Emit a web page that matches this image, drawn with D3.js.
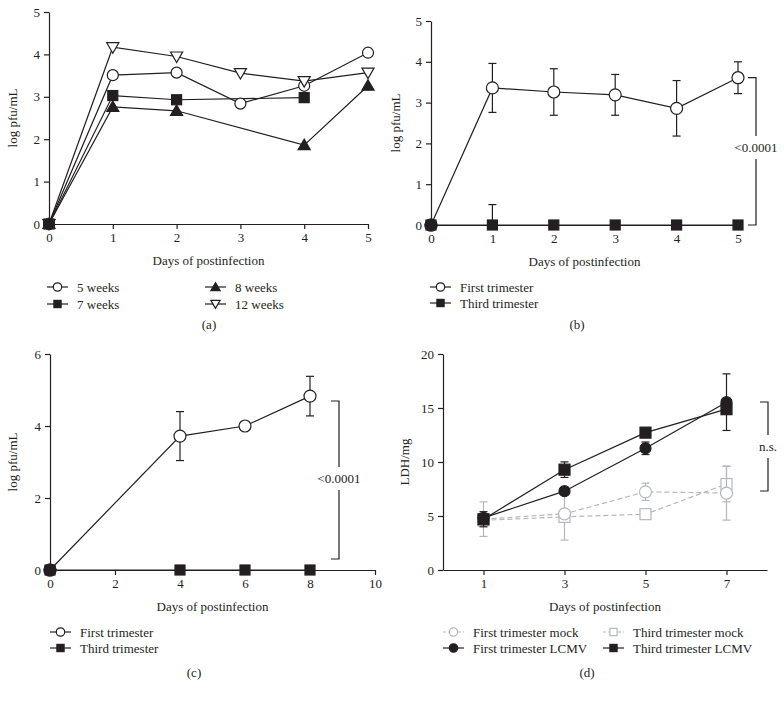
<!DOCTYPE html>
<html>
<head>
<meta charset="utf-8">
<script src="https://cdn.jsdelivr.net/npm/d3@7"></script>
<style>
  body { margin: 0; background: #fff; }
  text { font-family: "Liberation Serif", "DejaVu Serif", serif; fill: #231f20; }
</style>
</head>
<body>
<svg id="chart" width="784" height="701"></svg>
<script>
// ---- data ----
// panel (a): log pfu/mL by gestational age
const daysA = [0, 1, 2, 3, 4, 5];
const wk5 = [0, 3.51, 3.57, 2.84, 3.26, 4.04];
const wk7 = [0, 3.03, 2.93, null, 2.98, null];
const wk8 = [0, 2.76, 2.67, null, 1.86, 3.26];
const wk12 = [0, 4.17, 3.95, 3.56, 3.37, 3.57];
const legendA = ["5 weeks", "7 weeks", "8 weeks", "12 weeks"];

// panel (b)
const daysB = [0, 1, 2, 3, 4, 5];
const firstB = [0, 3.36, 3.26, 3.19, 2.86, 3.61];
const firstBErr = [0, 0.6, 0.57, 0.5, 0.68, 0.39];
const thirdB = [0, 0, 0, 0, 0, 0];
const thirdBErr = [0, 0.5, 0, 0, 0, 0];

// panel (c)
const daysC = [0, 4, 6, 8];
const firstC = [0, 3.72, 4.0, 4.83];
const firstCErr = [0, 0.68, 0, 0.55];
const thirdC = [0, 0, 0, 0];

// panel (d): LDH/mg
const daysD = [1, 3, 5, 7];
const firstMock = [4.71, 5.2, 7.24, 7.12];
const firstMockErr = [1.6, 0, 0.8, 2.5];
const thirdMock = [4.6, 4.92, 5.17, 7.96];
const thirdMockErr = [0, 2.15, 0, 1.65];
const firstLCMV = [4.83, 7.3, 11.27, 15.54];
const firstLCMVErr = [0, 0, 0.58, 2.62];
const thirdLCMV = [4.7, 9.29, 12.72, 14.89];
const thirdLCMVErr = [0.7, 0.72, 0, 0];
const legendD = ["First trimester mock", "Third trimester mock", "First trimester LCMV", "Third trimester LCMV"];

const legendBC = ["First trimester", "Third trimester"];
const xTitle = "Days of postinfection";

const ink = "#231f20";
const grey = "#b4b8bc";
const svg = d3.select("#chart");

// marker drawing helper
function marker(g, type, x, y, size, color, filled) {
  const fill = filled ? color : "#fff";
  if (type === "circle") {
    g.append("circle").attr("cx", x).attr("cy", y).attr("r", size)
      .attr("fill", fill).attr("stroke", color).attr("stroke-width", 1.2);
  } else if (type === "square") {
    g.append("rect").attr("x", x - size).attr("y", y - size)
      .attr("width", size * 2).attr("height", size * 2)
      .attr("fill", fill).attr("stroke", color).attr("stroke-width", 1.2);
  } else if (type === "tri") {
    const s = d3.symbol().type(d3.symbolTriangle).size(size * size * 2.1);
    g.append("path").attr("d", s()).attr("transform", `translate(${x},${y + 1})`)
      .attr("fill", fill).attr("stroke", color).attr("stroke-width", 1.2);
  } else if (type === "tridown") {
    const s = d3.symbol().type(d3.symbolTriangle).size(size * size * 2.1);
    g.append("path").attr("d", s()).attr("transform", `translate(${x},${y - 1}) rotate(180)`)
      .attr("fill", fill).attr("stroke", color).attr("stroke-width", 1.2);
  }
}

function axes(x, y, xTicks, yTicks, yLabel, yLabelX, title, tag, tagX, tagY) {
  const g = svg.append("g");
  const x0 = x.range()[0], y0 = y.range()[0];
  g.append("g").attr("transform", `translate(0,${y0})`)
    .call(d3.axisBottom(x).tickValues(xTicks).tickFormat(d3.format("d")).tickSize(5).tickSizeOuter(0).tickPadding(4))
    .call(a => a.selectAll("text").attr("font-size", 13).attr("font-family", "Liberation Serif"))
    .call(a => a.selectAll("line,path").attr("stroke", ink).attr("stroke-width", 1.2));
  g.append("g").attr("transform", `translate(${x0},0)`)
    .call(d3.axisLeft(y).tickValues(yTicks).tickFormat(d3.format("d")).tickSize(5).tickSizeOuter(0).tickPadding(4))
    .call(a => a.selectAll("text").attr("font-size", 13).attr("font-family", "Liberation Serif"))
    .call(a => a.selectAll("line,path").attr("stroke", ink).attr("stroke-width", 1.2));
  const yr = y.range();
  g.append("text").attr("transform", `translate(${yLabelX},${(yr[0] + yr[1]) / 2}) rotate(-90)`)
    .attr("text-anchor", "middle").attr("font-size", 13).text(yLabel);
  const xr = x.range();
  g.append("text").attr("x", (xr[0] + xr[1]) / 2).attr("y", y0 + 41)
    .attr("text-anchor", "middle").attr("font-size", 13).text(title);
  g.append("text").attr("x", tagX).attr("y", tagY)
    .attr("text-anchor", "middle").attr("font-size", 13).text(tag);
}

function series(x, y, xs, ys, errs, type, color, filled, dashed, size) {
  const g = svg.append("g");
  const pts = xs.map((d, i) => ({ x: d, y: ys[i], e: errs ? errs[i] : 0 }))
    .filter(p => p.y !== null);
  if (errs) {
    pts.filter(p => p.e > 0).forEach(p => {
      const cx = x(p.x);
      // error bars are cut at the axis floor (no negative titres)
      const lo = Math.max(0, p.y - p.e), hi = p.y + p.e;
      g.append("line").attr("x1", cx).attr("x2", cx)
        .attr("y1", y(lo)).attr("y2", y(hi))
        .attr("stroke", color).attr("stroke-width", 1.2);
      const caps = lo > 0 ? [lo, hi] : [hi];
      caps.forEach(v => {
        g.append("line").attr("x1", cx - 4).attr("x2", cx + 4)
          .attr("y1", y(v)).attr("y2", y(v))
          .attr("stroke", color).attr("stroke-width", 1.2);
      });
    });
  }
  g.append("path").datum(pts)
    .attr("d", d3.line().x(p => x(p.x)).y(p => y(p.y)))
    .attr("fill", "none").attr("stroke", color).attr("stroke-width", 1.2)
    .attr("stroke-dasharray", dashed ? "5,3" : null);
  pts.forEach(p => marker(g, type, x(p.x), y(p.y), size || 5.5, color, filled));
}

function legendItem(x, y, type, color, filled, dashed, label) {
  const g = svg.append("g");
  g.append("line").attr("x1", x).attr("x2", x + 21).attr("y1", y).attr("y2", y)
    .attr("stroke", color).attr("stroke-width", 1.2)
    .attr("stroke-dasharray", dashed ? "3,2" : null);
  marker(g, type, x + 10.5, y, type === "square" ? 3.6 : 4.2, color, filled);
  g.append("text").attr("x", x + 30).attr("y", y + 4.5).attr("font-size", 13).text(label);
}

function bracket(x1, x2, top, bottom, label, labelY) {
  const g = svg.append("g");
  g.append("path")
    .attr("d", `M${x1},${top}H${x2}V${labelY - 11}M${x2},${labelY + 12}V${bottom}H${x1}`)
    .attr("fill", "none").attr("stroke", ink).attr("stroke-width", 1.2);
  g.append("text").attr("x", x2).attr("y", labelY + 4.5)
    .attr("text-anchor", "middle").attr("font-size", 13).text(label);
}

// ---- panel (a) ----
const xa = d3.scaleLinear().domain([0, 5]).range([49, 368]);
const ya = d3.scaleLinear().domain([0, 5]).range([224, 12]);
axes(xa, ya, d3.range(0, 6), d3.range(0, 6), "log pfu/mL", 17, xTitle, "(a)", 209, 329);
series(xa, ya, daysA, wk8, null, "tri", ink, true, false, 5.5);
series(xa, ya, daysA, wk7, null, "square", ink, true, false, 5);
series(xa, ya, daysA, wk5, null, "circle", ink, false, false, 5.5);
series(xa, ya, daysA, wk12, null, "tridown", ink, false, false, 5.5);
marker(svg.append("g"), "circle", xa(0), ya(0), 5.5, ink, true);
legendItem(47, 287, "circle", ink, false, false, legendA[0]);
legendItem(47, 304, "square", ink, true, false, legendA[1]);
legendItem(205, 287, "tri", ink, true, false, legendA[2]);
legendItem(205, 304, "tridown", ink, false, false, legendA[3]);

// ---- panel (b) ----
const xb = d3.scaleLinear().domain([0, 5]).range([431, 738]);
const yb = d3.scaleLinear().domain([0, 5]).range([225, 21]);
axes(xb, yb, d3.range(0, 6), d3.range(0, 6), "log pfu/mL", 400, xTitle, "(b)", 577, 329);
series(xb, yb, daysB, thirdB, thirdBErr, "square", ink, true, false, 5);
series(xb, yb, daysB, firstB, firstBErr, "circle", ink, false, false, 6);
marker(svg.append("g"), "circle", xb(0), yb(0), 6, ink, true);
bracket(748, 756, yb(firstB[5]), yb(0), "<0.0001", 147);
legendItem(430, 287, "circle", ink, false, false, legendBC[0]);
legendItem(430, 303, "square", ink, true, false, legendBC[1]);

// ---- panel (c) ----
const xc = d3.scaleLinear().domain([0, 10]).range([50, 375]);
const yc = d3.scaleLinear().domain([0, 6]).range([570, 354]);
axes(xc, yc, d3.range(0, 11, 2), d3.range(0, 7, 2), "log pfu/mL", 17, xTitle, "(c)", 194, 677);
series(xc, yc, daysC, thirdC, null, "square", ink, true, false, 5);
series(xc, yc, daysC, firstC, firstCErr, "circle", ink, false, false, 6);
marker(svg.append("g"), "circle", xc(0), yc(0), 6, ink, true);
bracket(331, 339, 401, 559, "<0.0001", 478);
legendItem(50, 632, "circle", ink, false, false, legendBC[0]);
legendItem(50, 648, "square", ink, true, false, legendBC[1]);

// ---- panel (d) ----
const xd = d3.scaleLinear().domain([0, 8]).range([443, 767]);
const yd = d3.scaleLinear().domain([0, 20]).range([570, 354]);
axes(xd, yd, [1, 3, 5, 7], d3.range(0, 21, 5), "LDH/mg", 409, xTitle, "(d)", 587, 677);
series(xd, yd, daysD, thirdMock, thirdMockErr, "square", grey, false, true, 5.5);
series(xd, yd, daysD, firstMock, firstMockErr, "circle", grey, false, true, 6);
series(xd, yd, daysD, firstLCMV, firstLCMVErr, "circle", ink, true, false, 5.5);
series(xd, yd, daysD, thirdLCMV, thirdLCMVErr, "square", ink, true, false, 5.5);
bracket(760, 768, 402, 491, "n.s.", 446);
legendItem(443, 632, "circle", grey, false, true, legendD[0]);
legendItem(603, 632, "square", grey, false, true, legendD[1]);
legendItem(443, 648, "circle", ink, true, false, legendD[2]);
legendItem(603, 648, "square", ink, true, false, legendD[3]);
</script>
</body>
</html>
